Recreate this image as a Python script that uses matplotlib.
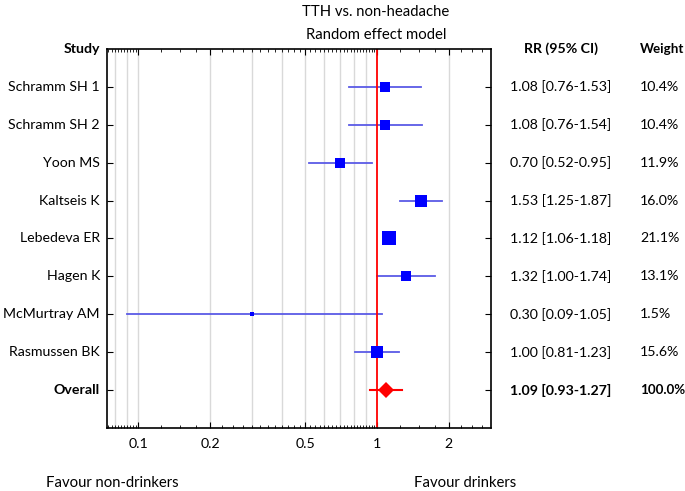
import matplotlib
matplotlib.use("Agg")
import matplotlib.pyplot as plt
import matplotlib.transforms as mtransforms
import numpy as np

studies = ["Schramm SH 1", "Schramm SH 2", "Yoon MS", "Kaltseis K", "Lebedeva ER",
           "Hagen K", "McMurtray AM", "Rasmussen BK"]
rr = [1.08, 1.08, 0.70, 1.53, 1.12, 1.32, 0.30, 1.00]
ci_low = [0.76, 0.76, 0.52, 1.25, 1.06, 1.00, 0.09, 0.81]
ci_high = [1.53, 1.54, 0.95, 1.87, 1.18, 1.74, 1.05, 1.23]
weights = [10.4, 10.4, 11.9, 16.0, 21.1, 13.1, 1.5, 15.6]

overall_rr = 1.09
overall_low = 0.93
overall_high = 1.27

plt.rcParams['font.family'] = ['Lato', 'DejaVu Sans']
fs = 10.2

W, H = 685, 491
fig = plt.figure(figsize=(W / 100, H / 100), dpi=100)
ax = fig.add_axes([107 / W, 1 - 428 / H, (491 - 107) / W, (428 - 49) / H])

ax.set_xscale('log')
ax.set_xlim(0.074, 3.0)
ax.set_ylim(9, -1)

# grid lines
grid_x = [0.08, 0.09] + [i / 10 for i in range(1, 10)] + [2]
for gx in grid_x:
    ax.axvline(gx, color='#d9d9d9', lw=1, zorder=0)

# study rows
for i in range(len(studies)):
    ax.plot([ci_low[i], ci_high[i]], [i, i], color='#5a5ae6', lw=1.3, zorder=2)
    side = 2.1 * np.sqrt(weights[i])
    ax.plot(rr[i], i, marker='s', color='#0000ff', markersize=side, zorder=3,
            markeredgewidth=0)

# overall
yo = len(studies)
ax.plot([overall_low, overall_high], [yo, yo], color='red', lw=1.5, zorder=2)
ax.plot(overall_rr, yo, marker='D', color='red', markersize=8.5, zorder=3, markeredgewidth=0)

ax.axvline(1, color='red', lw=1.3, zorder=2)

# ticks
major = [0.1, 0.2, 0.5, 1, 2]
ax.set_xticks(major)
ax.set_xticklabels(["0.1", "0.2", "0.5", "1", "2"], fontsize=fs)
minor = sorted(set(list(np.round(np.arange(0.075, 0.1, 0.0025), 4)) +
                   list(np.round(np.arange(0.1, 1.0, 0.025), 4)) +
                   list(np.round(np.arange(1.0, 3.0, 0.25), 3)) + [0.08, 0.09, 0.3, 0.4, 0.6, 0.7, 0.8, 0.9]))
minor = [m for m in minor if m not in major]
ax.set_xticks(minor, minor=True)
ax.tick_params(axis='x', which='major', direction='in', length=4, top=True, pad=7)
ax.tick_params(axis='x', which='minor', direction='in', length=2, top=True, labelbottom=False)

ax.set_yticks(range(len(studies) + 1))
ax.set_yticklabels([])
ax.tick_params(axis='y', direction='in', length=4, right=True)
for s in ax.spines.values():
    s.set_linewidth(1.2)

# left labels and right columns
trans = mtransforms.blended_transform_factory(fig.transFigure, ax.transData)
xl = 100 / W
xrr = 561 / W
xw = 640 / W
fsb = 9.6
ax.text(xl, -1, "Study", transform=trans, ha='right', va='center', fontsize=fs, fontweight='bold')
ax.text(xrr, -1, "RR (95% CI)", transform=trans, ha='center', va='center', fontsize=fs, fontweight='bold')
ax.text(xw, -1, "Weight", transform=trans, ha='left', va='center', fontsize=fsb, fontweight='bold')
for i, name in enumerate(studies):
    ax.text(xl, i, name, transform=trans, ha='right', va='center', fontsize=fs)
    ax.text(xrr, i, f"{rr[i]:.2f} [{ci_low[i]:.2f}-{ci_high[i]:.2f}]", transform=trans,
            ha='center', va='center', fontsize=fs)
    ax.text(xw, i, f"{weights[i]:.1f}%", transform=trans, ha='left', va='center', fontsize=fs)
ax.text(xl, yo, "Overall", transform=trans, ha='right', va='center', fontsize=fs, fontweight='bold')
ax.text(xrr, yo, f"{overall_rr:.2f} [{overall_low:.2f}-{overall_high:.2f}]", transform=trans,
        ha='center', va='center', fontsize=fs, fontweight='bold')
ax.text(xw, yo, f"{sum(weights):.1f}%", transform=trans, ha='left', va='center', fontsize=fsb,
        fontweight='bold')

# title and bottom labels
fig.text(376 / W, 1 - 12 / H, "TTH vs. non-headache", ha='center', va='center', fontsize=fs + 0.5)
fig.text(376 / W, 1 - 35 / H, "Random effect model", ha='center', va='center', fontsize=fs + 0.5)
fig.text(112 / W, 1 - 483 / H, "Favour non-drinkers", ha='center', va='center', fontsize=fs + 0.5)
fig.text(465 / W, 1 - 483 / H, "Favour drinkers", ha='center', va='center', fontsize=fs + 0.5)

fig.savefig("out.png", dpi=100)
